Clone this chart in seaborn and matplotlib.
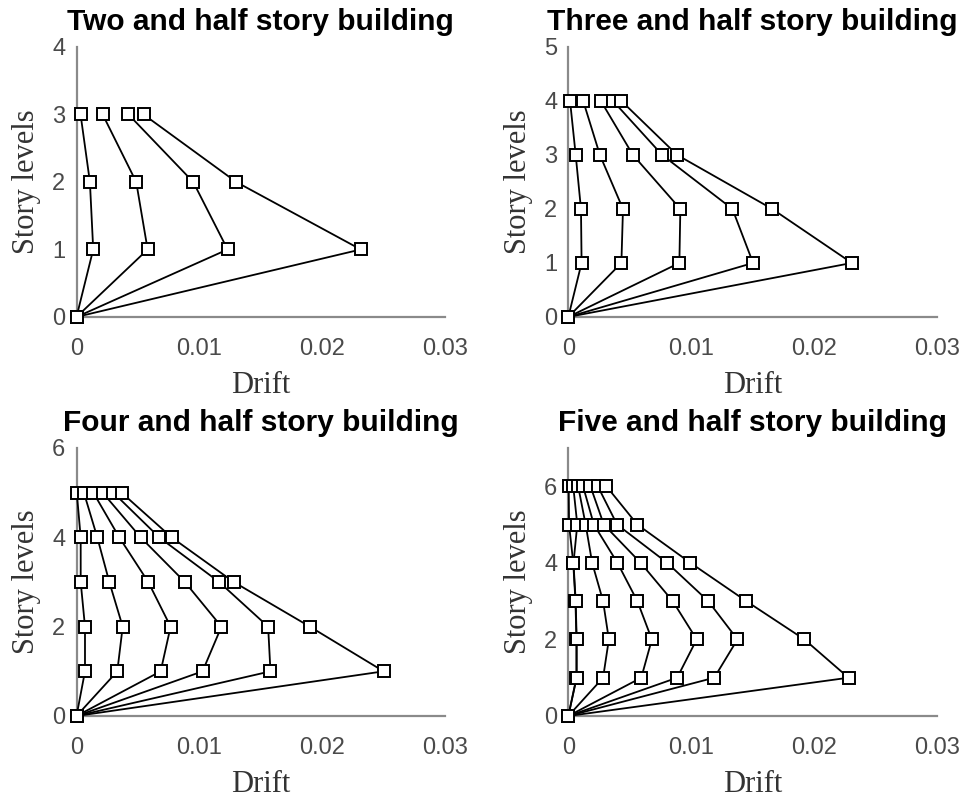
import numpy as np
import pandas as pd
import matplotlib
matplotlib.use("Agg")
import matplotlib.pyplot as plt
import seaborn as sns

# story drift profiles, one list per load case, level 0 at the base
levels_two = [0, 1, 2, 3]
drift_two = [
    [0, 0.00136, 0.00109, 0.00033],
    [0, 0.00579, 0.00486, 0.00213],
    [0, 0.0123, 0.0095, 0.00423],
    [0, 0.02314, 0.0130, 0.00546],
]

levels_three = [0, 1, 2, 3, 4]
drift_three = [
    [0, 0.00108, 0.00103, 0.0006, 0.00014],
    [0, 0.00432, 0.00445, 0.00257, 0.00121],
    [0, 0.00904, 0.00912, 0.00526, 0.00265],
    [0, 0.01504, 0.01336, 0.00764, 0.00364],
    [0, 0.02308, 0.0166, 0.00886, 0.00432],
]

levels_four = [0, 1, 2, 3, 4, 5]
drift_four = [
    [0, 0.00069, 0.00069, 0.00034, 0.00034, 0.00002],
    [0, 0.00332, 0.00376, 0.00267, 0.00169, 0.0006],
    [0, 0.00685, 0.00766, 0.00584, 0.00348, 0.00137],
    [0, 0.01026, 0.0118, 0.00882, 0.00522, 0.00213],
    [0, 0.01579, 0.0156, 0.01161, 0.00673, 0.003],
    [0, 0.025, 0.019, 0.0128, 0.00774, 0.00367],
]

levels_five = [0, 1, 2, 3, 4, 5, 6]
drift_five = [
    [0, 0.00066, 0.00066, 0.00058, 0.0004, 0.00006, 0.00003],
    [0, 0.00068, 0.00068, 0.0006, 0.00042, 0.00073, 0.0004],
    [0, 0.00283, 0.0033, 0.00283, 0.00194, 0.00141, 0.0008],
    [0, 0.00594, 0.0068, 0.00562, 0.004, 0.00208, 0.0012],
    [0, 0.00886, 0.01045, 0.0085, 0.00589, 0.00289, 0.0018],
    [0, 0.01188, 0.01377, 0.01139, 0.00805, 0.00397, 0.0024],
    [0, 0.02281, 0.01922, 0.01449, 0.00994, 0.00562, 0.0031],
]

titles = ['Two and half story building', 'Three and half story building',
          'Four and half story building', 'Five and half story building']
ylims = [4, 5, 6, 7]
yticks = [[0, 1, 2, 3, 4], [0, 1, 2, 3, 4, 5], [0, 2, 4, 6], [0, 2, 4, 6]]
xticks = [0, 0.01, 0.02, 0.03]
xticklabels = ['0', '0.01', '0.02', '0.03']


def to_frame(levels, drifts):
    rows = []
    for case, d in enumerate(drifts):
        for lv, x in zip(levels, d):
            rows.append({'case': case, 'level': lv, 'drift': x})
    return pd.DataFrame(rows)


sns.set_style('white')
plt.rcParams['font.family'] = ['Liberation Sans', 'DejaVu Sans']

fig = plt.figure(figsize=(9.71, 8.0), dpi=100)
positions = [
    [0.0788, 0.6038, 0.3795, 0.3375],
    [0.5853, 0.6038, 0.3795, 0.3375],
    [0.0788, 0.105, 0.3795, 0.335],
    [0.5853, 0.105, 0.3795, 0.335],
]
panels = [(levels_two, drift_two), (levels_three, drift_three),
          (levels_four, drift_four), (levels_five, drift_five)]

gray = '#6e6e6e'
for i, (levels, drifts) in enumerate(panels):
    ax = fig.add_axes(positions[i])
    df = to_frame(levels, drifts)
    sns.lineplot(data=df, x='drift', y='level', units='case', estimator=None,
                 sort=False, color='black', linewidth=1.3, marker='s',
                 markersize=8.5, markerfacecolor='white', markeredgecolor='black',
                 markeredgewidth=1.4, clip_on=False, zorder=5, ax=ax)
    ax.set_xlim(0, 0.03)
    ax.set_ylim(0, ylims[i])
    ax.set_xticks(xticks)
    ax.set_xticklabels(xticklabels)
    ax.set_yticks(yticks[i])
    ax.tick_params(direction='in', length=4, width=1, color=gray,
                   labelcolor='#4a4a4a', labelsize=17)
    ax.tick_params(axis='x', pad=15)
    ax.tick_params(axis='y', pad=8)
    sns.despine(ax=ax)
    for s in ['left', 'bottom']:
        ax.spines[s].set_color('#8a8a8a')
        ax.spines[s].set_linewidth(1.6)
    ax.set_xlabel('Drift', family='Liberation Serif', fontsize=22, color='#333333', labelpad=8)
    ax.set_ylabel('Story levels', family='Liberation Serif', fontsize=22, color='#333333', labelpad=8)
    ax.set_title(titles[i], fontsize=21.5, fontweight='bold', color='black', pad=12)

fig.savefig('out.png', dpi=100)
